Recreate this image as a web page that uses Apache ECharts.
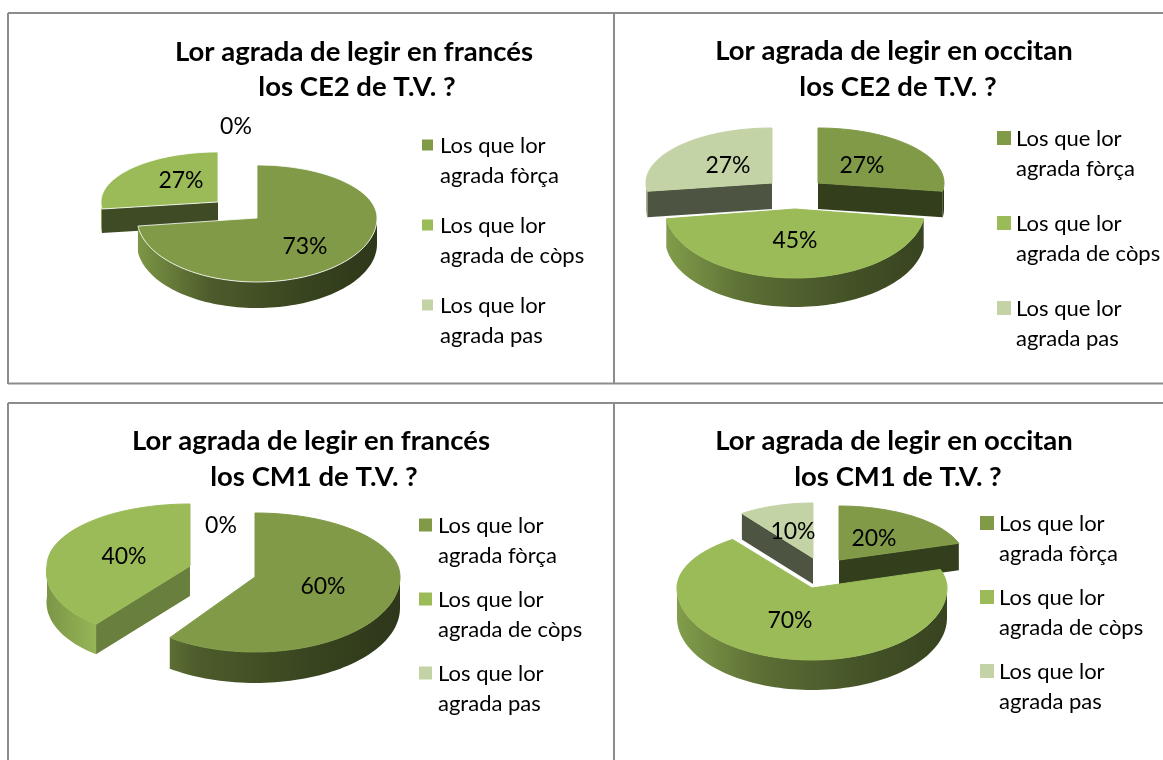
<!DOCTYPE html>
<html>
<head>
<meta charset="utf-8">
<title>Lor agrada de legir</title>
<script src="https://cdn.jsdelivr.net/npm/echarts@6/dist/echarts.min.js"></script>
<style>
  html, body { margin: 0; padding: 0; background: #fff; }
  #main { width: 1163px; height: 760px; }
</style>
</head>
<body>
<div id="main"></div>
<script>
// data (order: fòrça, de còps, pas)
const categories = ['Los que lor\nagrada fòrça', 'Los que lor\nagrada de còps', 'Los que lor\nagrada pas'];
const ce2Frances = [73, 27, 0];
const ce2Occitan = [27, 45, 27];
const cm1Frances = [60, 40, 0];
const cm1Occitan = [20, 70, 10];
const titleCe2Frances = ['Lor agrada de legir en francés', 'los CE2 de T.V. ?'];
const titleCe2Occitan = ['Lor agrada de legir en occitan', 'los CE2 de T.V. ?'];
const titleCm1Frances = ['Lor agrada de legir en francés', 'los CM1 de T.V. ?'];
const titleCm1Occitan = ['Lor agrada de legir en occitan', 'los CM1 de T.V. ?'];

const colors = ['#809a47', '#9bbb59', '#c3d3a6'];
const FONT = 'Lato';

// layout of each panel, slices[] = how far a slice is pulled out of the pie
const panels = [
  {
    values: ce2Frances, title: titleCe2Frances, titleX: [354, 357], titleY: [52, 87], edge: 'rgba(255,255,255,0.8)',
    c: [257, 218], rx: 120, ryB: 53, ryF: 64, depth: 26,
    slices: [{}, {dx: -39, dy: -16, rx: 117, ryB: 50, ryF: 56, depth: 24}, {}],
    labels: [[305, 247], [181, 181], [236, 127]],
    legend: {sx: 422, sw: 11, tx: 440, y: [146, 226, 306]}
  },
  {
    values: ce2Occitan, title: titleCe2Occitan, titleX: [894, 898], titleY: [51, 87],
    c: [795, 209], rx: 130, ryB: 55, ryF: 69, depth: 29,
    slices: [{dx: 23, dy: -26, rx: 126, ryF: 58, depth: 26}, {}, {dx: -23, dy: -26, rx: 126, ryF: 58, depth: 26}],
    labels: [[862, 166], [795, 241], [728, 166]],
    legend: {sx: 997, sw: 14, tx: 1016, y: [139, 224, 309]}
  },
  {
    values: cm1Frances, title: titleCm1Frances, titleX: [311, 314], titleY: [441, 477],
    c: [255, 577], rx: 145, ryB: 64, ryF: 75, depth: 31,
    slices: [{}, {dx: -65, dy: -11, rx: 143, ryB: 62, ryF: 72, depth: 30, faceShade: 0.68, skew: -0.17, rimShade: [0.8, 0.97]}, {}],
    labels: [[323, 587], [124, 557], [221, 526]],
    legend: {sx: 419, sw: 13, tx: 438, y: [526, 600, 674]}
  },
  {
    values: cm1Occitan, title: titleCm1Occitan, titleX: [894, 898], titleY: [441, 477],
    c: [812, 588], rx: 135, ryB: 60, ryF: 72, depth: 30,
    slices: [{dx: 27, dy: -28, rx: 126, ryB: 54, ryF: 60, depth: 27}, {}, {dx: 1, dy: -30, rx: 121, ryB: 55, ryF: 60, depth: 26}],
    labels: [[874, 539], [790, 621], [793, 532]],
    legend: {sx: 980, sw: 14, tx: 999, y: [524, 598, 672]}
  }
];

function shade(hex, k) {
  const n = parseInt(hex.slice(1), 16);
  const r = Math.round(((n >> 16) & 255) * k);
  const g = Math.round(((n >> 8) & 255) * k);
  const b = Math.round((n & 255) * k);
  return 'rgb(' + r + ',' + g + ',' + b + ')';
}

// point on the slanted rim, deg is clockwise from 12 o'clock
function rimPoint(s, deg, down) {
  const a = deg * Math.PI / 180;
  const cos = Math.cos(a);
  const y = cos > 0 ? -s.ryB * cos : -s.ryF * cos;
  const lean = y > 0 ? s.skew * y : 0;
  return [s.x + s.rx * Math.sin(a) + lean, s.y + y + (down || 0)];
}

function arc(s, a0, a1, down) {
  const pts = [];
  const n = Math.max(2, Math.ceil(Math.abs(a1 - a0) / 2));
  for (let i = 0; i <= n; i++) {
    pts.push(rimPoint(s, a0 + (a1 - a0) * i / n, down));
  }
  return pts;
}

function cutFace(s, deg, fill, z2) {
  const p = rimPoint(s, deg);
  return {
    type: 'polygon', z2: z2,
    shape: {points: [[s.x, s.y], p, [p[0], p[1] + s.depth], [s.x, s.y + s.depth]]},
    style: {fill: fill}
  };
}

function renderSlice(panel, params, api) {
  const i = params.dataIndex;
  const value = api.value(0);
  const children = [];
  const lab = panel.labels[i];
  children.push({
    type: 'text', z2: 100, x: lab[0], y: lab[1],
    style: {text: value + '%', fill: '#000', font: '23px ' + FONT, align: 'center', verticalAlign: 'middle'}
  });
  if (value > 0) {
    const total = panel.values.reduce((a, b) => a + b, 0);
    const before = panel.values.slice(0, i).reduce((a, b) => a + b, 0);
    const a0 = before / total * 360;
    const a1 = (before + value) / total * 360;
    const o = panel.slices[i];
    const s = {
      x: panel.c[0] + (o.dx || 0), y: panel.c[1] + (o.dy || 0),
      rx: o.rx || panel.rx, ryB: o.ryB || panel.ryB, ryF: o.ryF || panel.ryF, depth: o.depth || panel.depth,
      skew: o.skew || 0
    };
    // pulled out slices go behind the one still in place
    const z = (o.dx || o.dy) ? 1 : 10;
    const faceFill = shade(colors[i], o.faceShade || 0.4);
    if (Math.sin(a0 * Math.PI / 180) < -0.01) children.push(cutFace(s, a0, faceFill, z));
    if (Math.sin(a1 * Math.PI / 180) > 0.01) children.push(cutFace(s, a1, faceFill, z));

    // outer wall, only the front half can be seen
    const r0 = Math.max(a0, 90);
    const r1 = Math.min(a1, 270);
    if (r1 > r0) {
      const top = arc(s, r0, r1, 0);
      const bottom = arc(s, r1, r0, s.depth);
      const k = i === 0 ? 0.98 : 0.84;
      let stops = [
        {offset: 0, color: shade(colors[i], 0.36)},
        {offset: 0.3, color: shade(colors[i], 0.44)},
        {offset: 0.7, color: shade(colors[i], 0.6)},
        {offset: 1, color: shade(colors[i], k)}
      ];
      let gx = [s.x + s.rx, s.x - s.rx];
      if (o.rimShade) {
        gx = [top[0][0], s.x - s.rx];
        stops = [
          {offset: 0, color: shade(colors[i], o.rimShade[1])},
          {offset: 1, color: shade(colors[i], o.rimShade[0])}
        ];
      }
      children.push({
        type: 'polygon', z2: z + 1,
        shape: {points: top.concat(bottom)},
        style: {fill: new echarts.graphic.LinearGradient(gx[0], 0, gx[1], 0, stops, true)}
      });
    }
    children.push({
      type: 'polygon', z2: z + 2,
      shape: {points: [[s.x, s.y]].concat(arc(s, a0, a1, 0))},
      style: {fill: colors[i], stroke: panel.edge || colors[i], lineWidth: 1}
    });
  }
  return {type: 'group', children: children};
}

const titles = [];
const graphics = [
  // the table lines round the charts
  {type: 'line', shape: {x1: 8, y1: 13, x2: 1163, y2: 13}, style: {stroke: '#8c8c8c', lineWidth: 2}},
  {type: 'line', shape: {x1: 8, y1: 383.5, x2: 1163, y2: 383.5}, style: {stroke: '#8c8c8c', lineWidth: 2}},
  {type: 'line', shape: {x1: 8, y1: 403, x2: 1163, y2: 403}, style: {stroke: '#8c8c8c', lineWidth: 2}},
  {type: 'line', shape: {x1: 8, y1: 13, x2: 8, y2: 384}, style: {stroke: '#8c8c8c', lineWidth: 2}},
  {type: 'line', shape: {x1: 614, y1: 13, x2: 614, y2: 384}, style: {stroke: '#8c8c8c', lineWidth: 2}},
  {type: 'line', shape: {x1: 8, y1: 403, x2: 8, y2: 760}, style: {stroke: '#8c8c8c', lineWidth: 2}},
  {type: 'line', shape: {x1: 614, y1: 403, x2: 614, y2: 760}, style: {stroke: '#8c8c8c', lineWidth: 2}}
];

panels.forEach(function (p) {
  p.title.forEach(function (line, k) {
    titles.push({
      text: line, left: p.titleX[k], top: p.titleY[k], textAlign: 'center', textVerticalAlign: 'middle', padding: 0,
      textStyle: {fontFamily: FONT, fontWeight: 'bold', fontSize: 27.5, color: '#000'}
    });
  });
  categories.forEach(function (name, i) {
    const y = p.legend.y[i];
    graphics.push({
      type: 'rect',
      shape: {x: p.legend.sx, y: y - p.legend.sw / 2 - 1, width: p.legend.sw, height: p.legend.sw},
      style: {fill: colors[i]}
    });
    graphics.push({
      type: 'text', x: p.legend.tx, y: y - 15,
      style: {text: name, fill: '#000', font: '22px ' + FONT, lineHeight: 30, verticalAlign: 'top', align: 'left'}
    });
  });
});

const chart = echarts.init(document.getElementById('main'));
chart.setOption({
  animation: false,
  backgroundColor: '#fff',
  title: titles,
  graphic: graphics,
  series: panels.map(function (p) {
    return {
      type: 'custom',
      coordinateSystem: 'none',
      silent: true,
      data: p.values,
      renderItem: function (params, api) { return renderSlice(p, params, api); }
    };
  })
});
</script>
</body>
</html>
